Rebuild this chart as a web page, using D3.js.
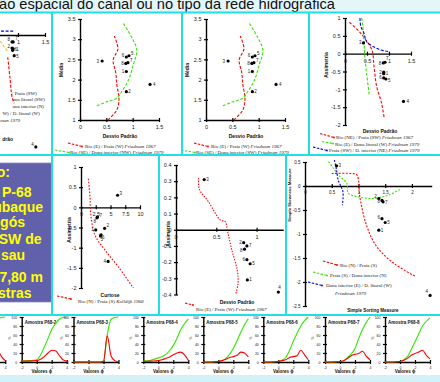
<!DOCTYPE html>
<html><head><meta charset="utf-8">
<script src="https://cdn.jsdelivr.net/npm/d3@7"></script>
<style>body{margin:0;background:#fff;} svg{display:block;}</style>
</head><body>
<svg id="c" width="440" height="382"></svg>
<script>
// ---------------- DATA ----------------
const titleText = "ão espacial do canal ou no tipo da rede hidrográfica";
const sampleIds = [1,2,3,4,5,6,7,8];
// Folk & Ward parameters
const sdFolk   = [0.88,0.88,0.42,1.33,0.93,0.88,0.91,0.87];
const meanFolk = [2.20,1.70,2.46,1.88,2.59,2.56,2.42,2.40];
const skewFolk = [-0.56,-0.52,0.30,-1.34,-0.71,-0.68,-0.24,-0.26];
const kurtFolk = [2.5,4.0,6.2,4.6,3.3,3.4,2.8,2.7];
// moment parameters (panel with -0.4..0.4)
const sdMoment   = [0.885,0.84,0.35,1.27,0.92,0.88,0.88,0.85];
const skewMoment = [-0.31,-0.08,0.31,-0.385,-0.21,-0.185,-0.10,-0.12];
// simple measures
const sortSimple = [1.38,1.38,0.59,2.34,1.50,1.44,1.46,1.44];
const skewSimple = [-0.92,-0.26,0.42,-2.28,-0.76,-0.68,-0.33,-0.30];
// partially visible top-left panel
const sdLeft   = [0.91,0.89,null,1.33,0.93,0.90,0.91,0.89];
const skewLeft = [-0.18,-0.17,null,-1.46,-0.27,-0.20,-0.09,-0.09];

// Friedman / Kolldijk boundary lines [x, y]
const riverBeachMeanSd = [[0.53,1.0],[0.70,1.25],[0.74,1.54],[0.70,1.87],[0.68,2.16],[0.63,2.49],[0.72,2.76],[0.65,3.08]];
const riverDuneMeanSd  = [[0.32,1.35],[0.51,1.45],[0.70,1.54],[0.79,1.70],[0.92,1.99],[1.01,2.36],[1.08,2.73],[0.98,3.05],[0.82,3.40]];
const riverBeachSkewSd = [[0.10,0.88],[0.30,0.65],[0.41,0.49],[0.61,0.11],[0.66,-0.36],[0.72,-0.92],[0.83,-1.38],[0.89,-1.80]];
const riverDuneSkewSd  = [[0.38,1.0],[0.40,0.81],[0.43,0.39],[0.45,-0.07],[0.49,-0.54],[0.55,-1.15]];
const beachDuneSkewSd  = [[0.34,1.0],[0.36,0.76],[0.43,0.58],[0.49,0.34],[0.64,0.20],[0.80,0.11],[0.98,0.06]];
const riverBeachSkewKurt = [[1.24,0.71],[1.53,0.25],[1.64,-0.15],[2.37,-0.69],[4.07,-1.06],[6.3,-1.47],[8.87,-2.0]];
const riverBeachMoment = [[0.28,0.32],[0.29,0.25],[0.40,0.175],[0.55,0.06],[0.61,0.05],[0.64,-0.01],[0.69,-0.12],[0.76,-0.25],[0.77,-0.33],[0.74,-0.40]];
const riverBeachSimple = [[0.50,0.26],[0.875,0.26],[0.97,0.23],[1.03,-0.26],[1.16,-0.85],[1.34,-1.26],[1.66,-1.61],[2.06,-1.88]];
const beachDuneSimple  = [[0.44,0.51],[0.53,0.37],[0.66,0.19],[0.78,0.06],[0.81,-0.15],[0.97,-0.22],[1.28,-0.26],[1.56,-0.19],[1.78,-0.07]];
const duneDuneSimple   = [[0.55,0.54],[0.59,0.33],[0.62,0.125],[0.66,0.02],[0.71,-0.12],[0.70,-0.40]];
const leftBlue  = [[0.60,0.05],[0.94,0.05]];
const leftGreen = [[0.62,-0.03],[0.81,-0.22]];
const leftRed   = [[0.81,-0.29],[0.85,-0.55],[0.89,-0.81],[0.93,-0.89]];

// grain size distributions (Amostra P68-x)
const sampleNames = ["Amostra P68-1","Amostra P68-2","Amostra P68-3","Amostra P68-4","Amostra P68-5","Amostra P68-6","Amostra P68-7","Amostra P68-8"];
const phiSteps = [-2,-1,0,0.5,1,1.5,2,2.5,3,3.5,4];
const cumP68 = [
  [0,0,2,5,15,35,60,82,95,99,100],
  [2,3,5,15,33,52,72,85,95,99,100],
  [0,0,0,0,0,0,2,60,95,99,100],
  [2,4,9,12,17,25,37,53,72,85,96],
  [0,0,1,3,8,17,30,47,66,83,96],
  [0,0,1,4,10,26,46,64,80,92,100],
  [0,0,1,3,10,18,30,52,72,88,100],
  [0,0,1,5,12,28,45,62,80,90,98]
];
const freqP68 = [
  [0,0,1,3,10,20,28,30,26,12,3],
  [2,2,3,6,12,20,26,25,15,5,2],
  [0,0,0,0,0,0,1,58,14,3,0],
  [1,2,3,5,8,11,16,20,22,16,4],
  [0,0,1,3,6,10,12,15,22,20,11],
  [0,0,1,3,5,10,12,14,26,16,5],
  [0,0,1,3,8,14,17,19,24,13,5],
  [0,0,1,4,8,15,19,22,26,15,7]
];
const boxLines = ["o:","P-68","ubaque","gós","SW de","sau","7,80 m","stras"];

// ---------------- DRAWING ----------------
const SANS = "'Liberation Sans', Arial, sans-serif";
const SERIF = "'Liberation Serif', 'Times New Roman', serif";
const RED = "#ff0000", GREEN = "#33e600", BLUE = "#0000ee", CYAN = "#22dfe6";
const svg = d3.select('#c');
const defs = svg.append('defs');

svg.append('rect').attr('width',440).attr('height',382).attr('fill','#fff');
svg.append('rect').attr('x',0).attr('y',0).attr('width',440).attr('height',12).attr('fill','#e3f7fb');
svg.append('text').attr('x',-1).attr('y',9).attr('font-family',SANS).attr('font-size',15)
  .attr('fill','#111').attr('textLength',336).attr('lengthAdjust','spacingAndGlyphs').text(titleText);
svg.append('rect').attr('x',0).attr('y',375).attr('width',440).attr('height',7).attr('fill','#d4f1f8');

function clipG(id, x, y, w, h){
  defs.append('clipPath').attr('id',id).append('rect').attr('x',x).attr('y',y).attr('width',w).attr('height',h);
  return svg.append('g').attr('clip-path',`url(#${id})`);
}
function styleAxis(a, fs){
  a.select('.domain').attr('stroke','#000').attr('stroke-width',1.4);
  a.selectAll('.tick text').attr('font-family',SANS).attr('font-size',fs||5.5).attr('fill','#222');
}
function yAxis(g, y, xpos, ticks, fs){
  const a = g.append('g').attr('transform',`translate(${xpos},0)`)
    .call(d3.axisLeft(y).tickValues(ticks).tickSize(2).tickSizeOuter(0).tickPadding(2.5).tickFormat(d=>String(d)));
  a.selectAll('.tick line').attr('x1',2).attr('x2',-2).attr('stroke','#000').attr('stroke-width',1.2);
  styleAxis(a, fs); return a;
}
function xAxis(g, x, ypos, ticks, fs){
  const a = g.append('g').attr('transform',`translate(0,${ypos})`)
    .call(d3.axisBottom(x).tickValues(ticks).tickSize(2).tickSizeOuter(0).tickPadding(3).tickFormat(d=>String(d)));
  a.selectAll('.tick line').attr('y1',-2).attr('y2',2).attr('stroke','#000').attr('stroke-width',1.2);
  styleAxis(a, fs); return a;
}
function dashed(g, x, y, pts, color, dash){
  g.append('path').datum(pts).attr('fill','none').attr('stroke',color).attr('stroke-width',1.1)
    .attr('stroke-dasharray',dash||'3,1.6')
    .attr('d', d3.line().x(d=>x(d[0])).y(d=>y(d[1])).curve(d3.curveCatmullRom));
}
function points(g, x, y, xs, ys, offs){
  sampleIds.forEach((id,i)=>{
    if (xs[i]==null) return;
    const px = x(xs[i]), py = y(ys[i]);
    g.append('circle').attr('cx',px).attr('cy',py).attr('r',1.6).attr('fill','#000');
    const o = offs[i];
    g.append('text').attr('x',px+o[0]).attr('y',py+o[1]).attr('font-family',SANS).attr('font-size',4.5)
      .attr('fill','#222').attr('text-anchor',o[0]<0?'end':'start').text(id);
  });
}
function title(g, x, y, t, fs, rot){
  const tt = g.append('text').attr('font-family',SANS).attr('font-weight','bold').attr('font-size',fs||5)
    .attr('fill','#111').attr('text-anchor','middle').text(t);
  if (rot) tt.attr('transform',`translate(${x},${y}) rotate(-90)`); else tt.attr('x',x).attr('y',y);
}
function legendItem(g, x1, y1, x2, y2, color, tx, ty, label, italic){
  g.append('line').attr('x1',x1).attr('y1',y1).attr('x2',x2).attr('y2',y2).attr('stroke',color)
    .attr('stroke-width',1.1).attr('stroke-dasharray','2.5,1.4');
  g.append('circle').attr('cx',x2).attr('cy',y2).attr('r',0.9).attr('fill',color);
  const t = g.append('text').attr('x',tx).attr('y',ty).attr('font-family',SERIF).attr('font-size',5).attr('fill','#222');
  t.append('tspan').text(label);
  if (italic) t.append('tspan').attr('font-style','italic').text(' '+italic);
}

// ---- Panel A (cut off, top-left)
{
  const g = clipG('cA',0,13,51,141);
  const x = d3.scaleLinear().domain([0,1.5]).range([-36,45]);
  const y = d3.scaleLinear().domain([0,-1.5]).range([35,150]);
  xAxis(g, x, y(0), [1,1.5]);
  dashed(g,x,y,leftBlue,BLUE);
  dashed(g,x,y,leftGreen,'#e8c800');
  dashed(g,x,y,leftRed,RED);
  points(g,x,y,sdLeft,skewLeft,[[3,2],[-2,0],[0,0],[-2,-1],[2,2],[2,1],[2,-2],[-2,-1]]);
  const lt = [["/ Praia (SW)",37,95],["una litoral (SW)",45,101],["una interior (N)",44,108],["W) / D. litoral (W)",40,115]];
  lt.forEach(d=>g.append('text').attr('x',d[1]).attr('y',d[2]).attr('text-anchor','end').attr('font-family',SERIF).attr('font-size',5).attr('fill','#222').text(d[0]));
  g.append('text').attr('x',20).attr('y',122).attr('text-anchor','end').attr('font-family',SERIF).attr('font-style','italic').attr('font-size',5).attr('fill','#222').text("man 1979");
  g.append('text').attr('x',13).attr('y',141).attr('text-anchor','end').attr('font-family',SANS).attr('font-weight','bold').attr('font-size',5).attr('fill','#111').text("drão");
}

// ---- Panels B & C (Média x Desvio Padrão)
function meanPanel(id, cx, cw, x0, legend2){
  const g = clipG(id, cx, 13, cw, 141);
  const x = d3.scaleLinear().domain([0,1.5]).range([x0, x0+79]);
  const y = d3.scaleLinear().domain([1,3.5]).range([120,19]);
  yAxis(g, y, x0, [1,1.5,2,2.5,3,3.5]);
  xAxis(g, x, 120, [0,0.5,1,1.5]);
  dashed(g,x,y,riverBeachMeanSd,RED);
  dashed(g,x,y,riverDuneMeanSd,GREEN);
  points(g,x,y,sdFolk,meanFolk,[[-2,1.5],[2,1.5],[-3,1.5],[3,1.5],[2,-0.5],[-2,0],[2,-1],[-2,1.5]]);
  title(g, x0-17, 70, "Média", 5, true);
  title(g, x0+40, 138, "Desvio Padrão", 5);
  legendItem(g, x0-12, 143, x0+2, 146.5, RED, x0+5, 148, "Rio (E) / Praia (W)", "Friedman 1967");
  legendItem(g, x0-25, 150, x0-11, 152.5, GREEN, x0-10, 154, legend2, "Friedman 1979");
}
meanPanel('cB', 53, 128, 80, "Rio (SE) / Duna interior (NW)");
meanPanel('cC', 183, 125, 206, "Rio (SE) / Duna interior (SW)");

// ---- Panel D (Assimetria x Desvio Padrão)
{
  const g = clipG('cD', 310, 13, 130, 141);
  const x = d3.scaleLinear().domain([0,1.5]).range([345,411]);
  const y = d3.scaleLinear().domain([1,-2]).range([18,125]);
  yAxis(g, y, 345, [1,0.5,0,-0.5,-1,-1.5,-2]);
  xAxis(g, x, y(0), [0,0.5,1,1.5]);
  dashed(g,x,y,riverBeachSkewSd,RED);
  dashed(g,x,y,riverDuneSkewSd,GREEN);
  dashed(g,x,y,beachDuneSkewSd,BLUE);
  points(g,x,y,sdFolk,skewFolk,[[2,1.5],[-2,1.5],[-2,1.5],[3,1.5],[2,3],[-2,1.5],[1,-2],[-2,2]]);
  title(g, 328, 65, "Assimetria", 5, true);
  title(g, 380, 133, "Desvio Padrão", 5);
  legendItem(g, 320, 133.5, 334, 137.5, RED, 336, 139, "Rio (NE) / Praia (SW)", "Friedman 1967");
  legendItem(g, 322, 141.5, 333, 143.5, GREEN, 335, 145.5, "Rio (E) / Duna litoral (W)", "Friedman 1979");
  legendItem(g, 313, 147, 327, 150.5, BLUE, 329, 152, "Praia (SW) / D. interior (NE)", "Friedman 1979");
}

// ---- Purple text box
svg.append('rect').attr('x',-1).attr('y',163).attr('width',53).attr('height',139).attr('fill','#6161ab').attr('stroke','#8a8ac4').attr('stroke-width',0.8);
{
  const ends = [10,31.5,43,25,41.5,25,43,31.5];
  const bases = [177,197,212,227,244,260,282,298];
  boxLines.forEach((t,i)=>svg.append('text').attr('x',ends[i]).attr('y',bases[i]).attr('text-anchor','end')
    .attr('font-family',SANS).attr('font-weight','bold').attr('font-size',14).attr('fill','#ffff00').text(t));
}

// ---- Panel E (Assimetria x Curtose)
{
  const g = clipG('cE', 53, 156, 105, 158);
  const x = d3.scaleLinear().domain([0,10]).range([81,140]);
  const y = d3.scaleLinear().domain([1,-2]).range([167,288]);
  yAxis(g, y, 81, [1,0.5,0,-0.5,-1,-1.5,-2]);
  xAxis(g, x, y(0), [0,2.5,5,7.5,10]);
  dashed(g,x,y,riverBeachSkewKurt,RED,'1.6,1.6');
  points(g,x,y,kurtFolk,skewFolk,[[-2,1.5],[2,-1],[2,0],[-2,1.5],[0,5],[1,4],[2,0],[-1,5]]);
  title(g, 71, 230, "Assimetria", 5, true);
  title(g, 110, 297, "Curtose", 5);
  legendItem(g, 57, 296, 71, 299, RED, 78, 303, "Rio (N) / Praia (S)", "Kolldijk 1968");
}

// ---- Panel F (Assimetria x Desvio Padrão, momentos)
{
  const g = clipG('cF', 160, 156, 125, 158);
  const x = d3.scaleLinear().domain([0,1.33]).range([176,283.2]);
  const y = d3.scaleLinear().domain([0.4,-0.4]).range([165,294.5]);
  yAxis(g, y, 176, [0.4,0.3,0.2,0.1,0,-0.1,-0.2,-0.3,-0.4]);
  xAxis(g, x, y(0), [0.5,1]);
  g.append('text').attr('x',176).attr('y',239).attr('text-anchor','middle').attr('font-family',SANS).attr('font-size',5.5).attr('fill','#222').text('0');
  dashed(g,x,y,riverBeachMoment,RED,'1.4,1.4');
  points(g,x,y,sdMoment,skewMoment,[[2,1.5],[-2,1],[2,1.5],[0,-3],[2,1.5],[-2,1],[2,1.5],[-2,3]]);
  title(g, 170, 234, "Assimetria", 5, true);
  title(g, 237, 304, "Desvio Padrão", 5);
  legendItem(g, 185, 303, 193, 305, RED, 196, 311, "Rio (E) / Praia (W)", "Friedman 1967");
}

// ---- Panel G (Simple measures)
{
  const g = clipG('cG', 287, 156, 153, 158);
  const x = d3.scaleLinear().domain([0,2.37]).range([305,431.7]);
  const y = d3.scaleLinear().domain([0.5,-2.5]).range([162,306]);
  yAxis(g, y, 305, [0.5,0,-0.5,-1,-1.5,-2,-2.5], 4.5);
  xAxis(g, x, y(0), [0,0.5,1,1.5,2], 4.5);
  dashed(g,x,y,riverBeachSimple,RED,'2,1.5');
  dashed(g,x,y,beachDuneSimple,GREEN,'2,1.5');
  dashed(g,x,y,duneDuneSimple,BLUE,'2,1.5');
  points(g,x,y,sortSimple,skewSimple,[[2,1.5],[-2,0],[2,1.5],[-2,-2],[2,2],[-2,0],[2,2],[-2,3]]);
  title(g, 291, 195, "Simple Skewness Measure", 4.2, true);
  title(g, 373, 312, "Simple Sorting Measure", 4.5);
  legendItem(g, 323, 261, 337, 265, RED, 340, 267, "Rio (N) / Praia (S)");
  legendItem(g, 313, 272, 327, 275.5, GREEN, 330, 276.5, "Praia (S) / Duna interior (N)");
  legendItem(g, 308, 282, 322, 285.5, BLUE, 326, 286.5, "Duna interior (E) / D. litoral (W)");
  g.append('text').attr('x',335).attr('y',295).attr('font-family',SERIF).attr('font-style','italic').attr('font-size',5).attr('fill','#222').text("Friedman 1979");
}

// ---- Grain-size distribution charts
const p68AxisX = [-39.7, 21.7, 73.5, 143.3, 203.3, 263.3, 325, 385];
sampleNames.forEach((name,i)=>{
  const ax = p68AxisX[i];
  const g = svg.append('g');
  const x = d3.scaleLinear().domain([-2,4]).range([ax, ax+45]);
  const y = d3.scaleLinear().domain([0,100]).range([362,317]);
  yAxis(g, y, ax, [0,20,40,60,80,100], 3.5);
  xAxis(g, x, 362, [-2,0,2,4], 3.5);
  g.append('text').attr('transform',`translate(${ax-11},338) rotate(-90)`).attr('text-anchor','middle')
    .attr('font-family',SANS).attr('font-size',3.5).attr('fill','#222').text('%');
  g.append('text').attr('x',ax+3).attr('y',324).attr('font-family',SANS).attr('font-weight','bold').attr('font-size',4.5).attr('fill','#111').text(name);
  g.append('text').attr('x',ax+20).attr('y',373).attr('text-anchor','middle').attr('font-family',SANS).attr('font-weight','bold').attr('font-size',4.5).attr('fill','#111').text('Valores ϕ');
  const ln = d3.line().x((d,k)=>x(phiSteps[k])).y(d=>y(d)).curve(d3.curveMonotoneX);
  g.append('path').datum(cumP68[i]).attr('fill','none').attr('stroke',GREEN).attr('stroke-width',1.1).attr('d',ln);
  g.append('path').datum(freqP68[i]).attr('fill','none').attr('stroke',RED).attr('stroke-width',1.1).attr('d',ln);
});

// ---- Cyan frame lines
const hLines = [[0,440,12.5],[0,440,155],[0,440,315]];
const vLines = [[52,12,155],[182,12,155],[309,12,155],[52,155,315],[159,155,315],[286,155,315]];
hLines.forEach(d=>svg.append('line').attr('x1',d[0]).attr('x2',d[1]).attr('y1',d[2]).attr('y2',d[2]).attr('stroke',CYAN).attr('stroke-width',2));
vLines.forEach(d=>svg.append('line').attr('x1',d[0]).attr('x2',d[0]).attr('y1',d[1]).attr('y2',d[2]).attr('stroke',CYAN).attr('stroke-width',2));
</script>
</body></html>
